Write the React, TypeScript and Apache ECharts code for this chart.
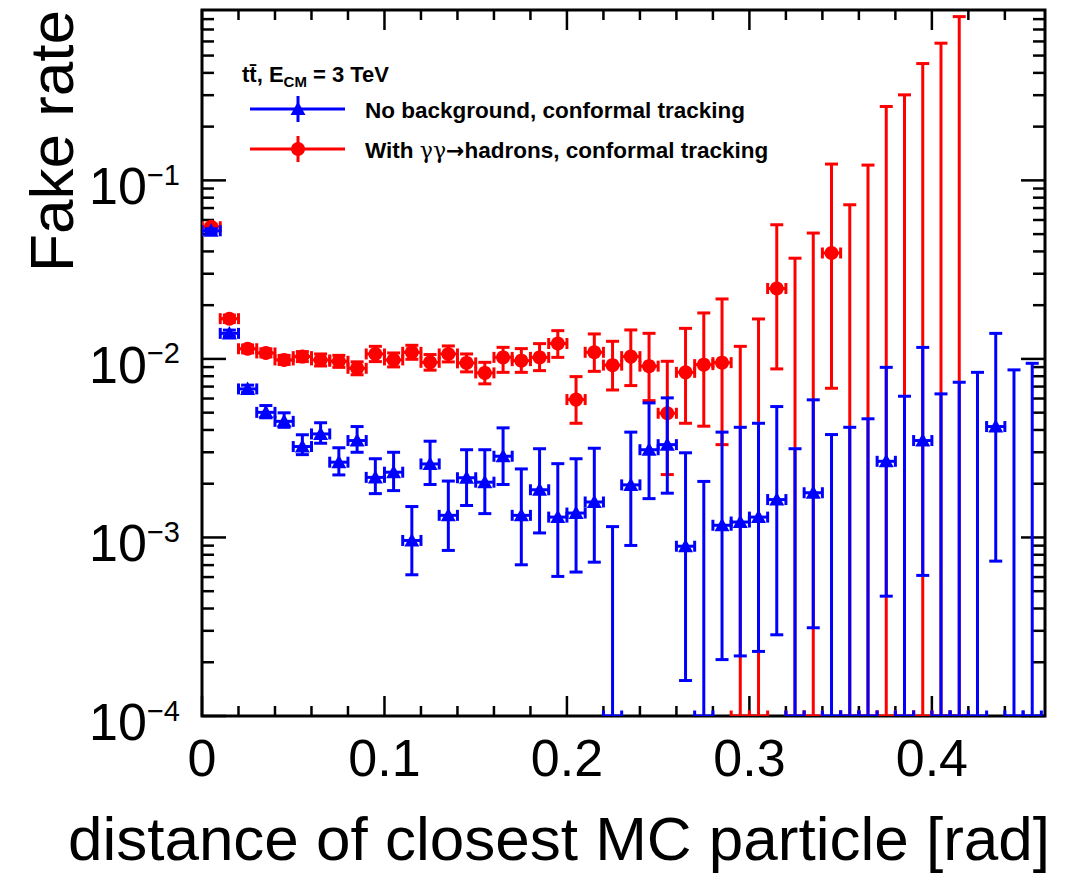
import { useEffect, useRef } from "react";
import * as echarts from "echarts";

const X_MIN = 0;
const X_MAX = 0.462;
const Y_MIN = 1e-4;
const Y_MAX = 0.9;
const BIN_HALF = 0.005;

const binCenters = [
  0.005, 0.015, 0.025, 0.035, 0.045, 0.055, 0.065, 0.075, 0.085, 0.095,
  0.105, 0.115, 0.125, 0.135, 0.145, 0.155, 0.165, 0.175, 0.185, 0.195,
  0.205, 0.215, 0.225, 0.235, 0.245, 0.255, 0.265, 0.275, 0.285, 0.295,
  0.305, 0.315, 0.325, 0.335, 0.345, 0.355, 0.365, 0.375, 0.385, 0.395,
  0.405, 0.415, 0.425, 0.435, 0.445, 0.455,
];

// With gamma gamma -> hadrons (red)
const redValue = [
  0.055, 0.0168, 0.0114, 0.0108, 0.00987, 0.0103, 0.00987, 0.0097, 0.00886, 0.01066,
  0.00987, 0.01089, 0.00957, 0.01066, 0.0095, 0.00835, 0.0102, 0.00978, 0.0102, 0.0122,
  0.00592, 0.01089, 0.00923, 0.0103, 0.00911, 0.00496, 0.00841, 0.00929, 0.00953, 0,
  0, 0.0248, 0, 0, 0.0392, 0, 0, 0, 0, 0, 0, 0,
];
const redLow = [
  0.0532, 0.016, 0.0108, 0.01026, 0.00931, 0.00966, 0.00913, 0.00897, 0.00815, 0.00966,
  0.00902, 0.00995, 0.00865, 0.00962, 0.00846, 0.00725, 0.00841, 0.00841, 0.0086, 0.0102,
  0.00436, 0.00852, 0.0067, 0.00709, 0.00584, 0.00225, 0.00436, 0.0042, 0.00331, 0,
  0, 0.00879, 0, 0, 0.00685, 0, 0, 0, 0, 0, 0, 0,
];
const redHigh = [
  0.0568, 0.0176, 0.01197, 0.0114, 0.01046, 0.01099, 0.01066, 0.01047, 0.00963, 0.01176,
  0.0108, 0.01192, 0.01058, 0.01182, 0.01066, 0.00957, 0.01161, 0.01142, 0.01218, 0.0144,
  0.00796, 0.0138, 0.01255, 0.01453, 0.01391, 0.0097, 0.01483, 0.01809, 0.02167, 0.01176,
  0.01674, 0.05642, 0.03665, 0.0507, 0.1234, 0.073, 0.1218, 0.2592, 0.3013, 0.4511,
  0.5866, 0.8264,
];

// No background (blue)
const blueValue = [
  0.0522, 0.0139, 0.00679, 0.00502, 0.00447, 0.00323, 0.0038, 0.00264, 0.00349, 0.00217,
  0.00232, 0.000962, 0.00258, 0.00133, 0.00216, 0.00204, 0.00285, 0.00133, 0.00185, 0.0013,
  0.00137, 0.00158, 0, 0.00197, 0.0031, 0.00331, 0.000893, 0, 0.00117, 0.00122,
  0.0013, 0.00163, 0, 0.00178, 0, 0, 0, 0.00267, 0, 0.00349,
  0, 0, 0, 0.00418, 0, 0,
];
const blueLow = [
  0.0509, 0.01334, 0.00648, 0.00468, 0.00414, 0.00291, 0.00337, 0.00224, 0.003, 0.00176,
  0.00183, 0.000618, 0.00198, 0.000846, 0.00151, 0.00136, 0.00198, 0.000703, 0.00106, 0.000605,
  0.00064, 0.000727, 0, 0.000902, 0.00165, 0.00177, 0.000158, 0, 0.000207, 0.000217,
  0.00023, 0.000285, 0, 0.000312, 0, 0, 0, 0.000469, 0, 0.000613,
  0, 0, 0, 0.000737, 0, 0,
];
const blueHigh = [
  0.0536, 0.0145, 0.00713, 0.00548, 0.00499, 0.00376, 0.00439, 0.00318, 0.00418, 0.00276,
  0.003, 0.00149, 0.00346, 0.00207, 0.0031, 0.0031, 0.00411, 0.00242, 0.00314, 0.00259,
  0.00276, 0.00316, 0.00115, 0.00389, 0.00567, 0.00605, 0.00298, 0.00206, 0.00389, 0.00414,
  0.00436, 0.00541, 0.00314, 0.0059, 0.00377, 0.00414, 0.00462, 0.00897, 0.00618, 0.0116,
  0.00637, 0.0074, 0.00841, 0.0139, 0.00868, 0.00945,
];

const xMajorTicks = [0, 0.1, 0.2, 0.3, 0.4];
const xMinorTicks = [
  0.02, 0.04, 0.06, 0.08, 0.12, 0.14, 0.16, 0.18, 0.22, 0.24, 0.26, 0.28,
  0.32, 0.34, 0.36, 0.38, 0.42, 0.44,
];
const yMajorTicks = [1e-4, 1e-3, 1e-2, 1e-1];
const yMinorTicks = [
  2e-4, 3e-4, 4e-4, 5e-4, 6e-4, 7e-4, 8e-4, 9e-4,
  2e-3, 3e-3, 4e-3, 5e-3, 6e-3, 7e-3, 8e-3, 9e-3,
  2e-2, 3e-2, 4e-2, 5e-2, 6e-2, 7e-2, 8e-2, 9e-2,
  0.2, 0.3, 0.4, 0.5, 0.6, 0.7, 0.8,
];

const RED = "#ff0000";
const BLUE = "#0000ff";
const FONT = '"Liberation Sans", Arial, Helvetica, sans-serif';

function makeErrorRender(color: string, marker: "circle" | "triangle") {
  return (params: any, api: any) => {
    const x = api.value(0);
    const v = api.value(2);
    const lo = api.value(3);
    const hi = api.value(4);
    const yBottom = api.coord([x, Y_MIN])[1];
    const c = api.coord([x, Math.max(v, Y_MIN)]);
    const xl = api.coord([x - BIN_HALF, Y_MIN])[0];
    const xr = api.coord([x + BIN_HALF, Y_MIN])[0];
    const yLo = lo > Y_MIN ? api.coord([x, lo])[1] : yBottom;
    const yHi = api.coord([x, Math.min(hi, Y_MAX)])[1];
    const style = { stroke: color, lineWidth: 3 };
    const children: any[] = [];
    children.push({ type: "line", shape: { x1: c[0], y1: yLo, x2: c[0], y2: yHi }, style });
    if (hi < Y_MAX) {
      children.push({ type: "line", shape: { x1: c[0] - 6.5, y1: yHi, x2: c[0] + 6.5, y2: yHi }, style });
    }
    if (lo > Y_MIN) {
      children.push({ type: "line", shape: { x1: c[0] - 6.5, y1: yLo, x2: c[0] + 6.5, y2: yLo }, style });
    }
    const yh = v > 0 ? c[1] : yBottom;
    children.push({ type: "line", shape: { x1: xl, y1: yh, x2: xr, y2: yh }, style });
    children.push({ type: "line", shape: { x1: xl, y1: yh - 5.5, x2: xl, y2: yh + 5.5 }, style });
    children.push({ type: "line", shape: { x1: xr, y1: yh - 5.5, x2: xr, y2: yh + 5.5 }, style });
    if (v > 0) {
      if (marker === "circle") {
        children.push({ type: "circle", shape: { cx: c[0], cy: c[1], r: 7 }, style: { fill: color } });
      } else {
        children.push({
          type: "polygon",
          shape: { points: [[c[0], c[1] - 7.5], [c[0] - 7.5, c[1] + 6], [c[0] + 7.5, c[1] + 6]] },
          style: { fill: color },
        });
      }
    }
    return { type: "group", children };
  };
}

export default function App() {
  const ref = useRef<HTMLDivElement>(null);
  useEffect(() => {
    document.body.style.margin = "0";
    const chart = echarts.init(ref.current!, undefined, { renderer: "svg" });

    const tickStyle = { stroke: "#000", lineWidth: 2.5 };
    const yTickData = [
      ...yMajorTicks.map((v) => [X_MIN, v, 1]),
      ...yMinorTicks.map((v) => [X_MIN, v, 0]),
    ];
    const xTickData = [
      ...xMajorTicks.map((v) => [v, Y_MIN, 1]),
      ...xMinorTicks.map((v) => [v, Y_MIN, 0]),
    ];

    const redData = redValue.map((v, i) => [binCenters[i], Math.max(v, Y_MIN), v, redLow[i], redHigh[i]]);
    const blueData = blueValue.map((v, i) => [binCenters[i], Math.max(v, Y_MIN), v, blueLow[i], blueHigh[i]]);

    const option: any = {
      animation: false,
      backgroundColor: "#ffffff",
      grid: {
        left: 202,
        right: 29,
        top: 10,
        bottom: 161,
        show: true,
        borderColor: "#000",
        borderWidth: 3,
        backgroundColor: "transparent",
        outerBoundsMode: "none",
      },
      xAxis: {
        type: "value",
        min: X_MIN,
        max: X_MAX,
        interval: 0.1,
        axisLine: { show: false },
        axisTick: { show: false },
        splitLine: { show: false },
        axisLabel: {
          color: "#000",
          fontSize: 52,
          fontFamily: FONT,
          margin: 16,
          formatter: (val: number) => {
            const hit = xMajorTicks.find((t) => Math.abs(t - val) < 1e-9);
            if (hit === undefined) return "";
            return hit === 0 ? "0" : hit.toFixed(1);
          },
        },
      },
      yAxis: {
        type: "log",
        logBase: 10,
        min: Y_MIN,
        max: Y_MAX,
        axisLine: { show: false },
        axisTick: { show: false },
        splitLine: { show: false },
        minorTick: { show: false },
        axisLabel: {
          color: "#000",
          margin: 22,
          padding: [12, 0, 0, 0],
          formatter: (val: number) => {
            const l = Math.log10(val);
            const e = Math.round(l);
            if (Math.abs(l - e) > 1e-6) return "";
            return `{a|10}{b|\u2212${Math.abs(e)}}`;
          },
          rich: {
            a: { fontSize: 52, fontFamily: FONT, color: "#000", lineHeight: 52 },
            b: { fontSize: 29, fontFamily: FONT, color: "#000", lineHeight: 29, verticalAlign: "top" },
          },
        },
      },
      series: [
        {
          type: "custom",
          name: "yticks",
          silent: true,
          data: yTickData,
          encode: { x: 0, y: 1 },
          renderItem: (params: any, api: any) => {
            const v = api.value(1);
            const len = api.value(2) === 1 ? 24 : 12;
            const pl = api.coord([X_MIN, v]);
            const pr = api.coord([X_MAX, v]);
            return {
              type: "group",
              children: [
                { type: "line", shape: { x1: pl[0], y1: pl[1], x2: pl[0] + len, y2: pl[1] }, style: tickStyle },
                { type: "line", shape: { x1: pr[0] - len, y1: pr[1], x2: pr[0], y2: pr[1] }, style: tickStyle },
              ],
            };
          },
        },
        {
          type: "custom",
          name: "xticks",
          silent: true,
          data: xTickData,
          encode: { x: 0, y: 1 },
          renderItem: (params: any, api: any) => {
            const v = api.value(0);
            const len = api.value(2) === 1 ? 20 : 10;
            const pb = api.coord([v, Y_MIN]);
            const pt = api.coord([v, Y_MAX]);
            return {
              type: "group",
              children: [
                { type: "line", shape: { x1: pb[0], y1: pb[1], x2: pb[0], y2: pb[1] - len }, style: tickStyle },
                { type: "line", shape: { x1: pt[0], y1: pt[1], x2: pt[0], y2: pt[1] + len }, style: tickStyle },
              ],
            };
          },
        },
        {
          type: "custom",
          name: "With γγ→hadrons, conformal tracking",
          clip: true,
          data: redData,
          encode: { x: 0, y: 1 },
          renderItem: makeErrorRender(RED, "circle"),
        },
        {
          type: "custom",
          name: "No background, conformal tracking",
          clip: true,
          data: blueData,
          encode: { x: 0, y: 1 },
          renderItem: makeErrorRender(BLUE, "triangle"),
        },
      ],
      graphic: [
        {
          type: "text",
          x: 51,
          y: 10,
          rotation: Math.PI / 2,
          style: {
            text: "Fake rate",
            font: `62px ${FONT}`,
            fill: "#000",
            textAlign: "right",
            textVerticalAlign: "middle",
          },
        },
        {
          type: "text",
          x: 1050,
          y: 838,
          style: {
            text: "distance of closest MC particle [rad]",
            font: `62px ${FONT}`,
            fill: "#000",
            textAlign: "right",
            textVerticalAlign: "middle",
          },
        },
        {
          type: "text",
          x: 242,
          y: 74,
          style: {
            text: "{h|tt\u0304, E}{s|CM}{h| = 3 TeV}",
            textVerticalAlign: "middle",
            rich: {
              h: { fontSize: 22, fontWeight: "bold", fontFamily: FONT, fill: "#000", color: "#000", lineHeight: 30 },
              s: { fontSize: 15, fontWeight: "bold", fontFamily: FONT, fill: "#000", color: "#000", lineHeight: 15, verticalAlign: "bottom" },
            },
          },
        },
        { type: "line", shape: { x1: 250, y1: 109, x2: 345, y2: 109 }, style: { stroke: BLUE, lineWidth: 3 } },
        { type: "line", shape: { x1: 298, y1: 96, x2: 298, y2: 122 }, style: { stroke: BLUE, lineWidth: 3 } },
        { type: "polygon", shape: { points: [[298, 101.5], [290.5, 115], [305.5, 115]] }, style: { fill: BLUE } },
        { type: "line", shape: { x1: 250, y1: 149, x2: 345, y2: 149 }, style: { stroke: RED, lineWidth: 3 } },
        { type: "line", shape: { x1: 298, y1: 136, x2: 298, y2: 162 }, style: { stroke: RED, lineWidth: 3 } },
        { type: "circle", shape: { cx: 298, cy: 149, r: 7 }, style: { fill: RED } },
        {
          type: "text",
          x: 365,
          y: 110,
          style: {
            text: "No background, conformal tracking",
            font: `bold 22.5px ${FONT}`,
            fill: "#000",
            textVerticalAlign: "middle",
          },
        },
        {
          type: "text",
          x: 365,
          y: 150,
          style: {
            text: "{w|With }{g|γγ}{r|→}{w|hadrons, conformal tracking}",
            textVerticalAlign: "middle",
            rich: {
              w: { fontSize: 22.5, fontWeight: "bold", fontFamily: FONT, color: "#000", fill: "#000" },
              g: { fontSize: 22, fontFamily: '"DejaVu Serif", serif', color: "#000", fill: "#000" },
              r: { fontSize: 22, fontWeight: "bold", fontFamily: '"DejaVu Sans", sans-serif', color: "#000", fill: "#000" },
            },
          },
        },
      ],
    };

    chart.setOption(option);
    return () => chart.dispose();
  }, []);
  return <div ref={ref} style={{ width: 1074, height: 877 }} />;
}
